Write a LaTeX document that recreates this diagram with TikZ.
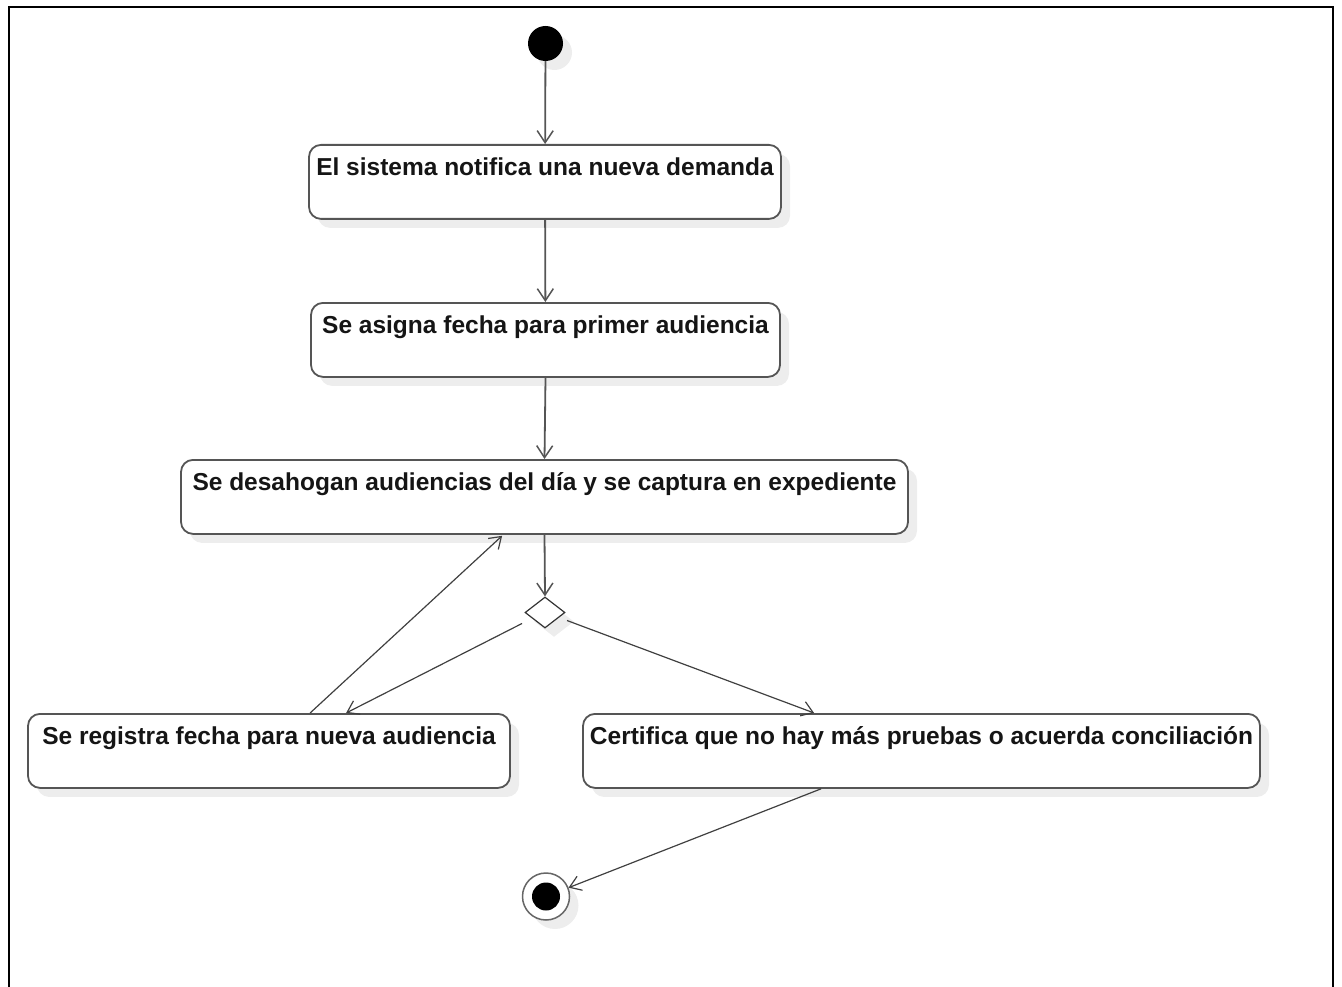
\documentclass[tikz,border=0pt]{standalone}
\usepackage{fontspec}
\setmainfont{Liberation Sans}
\usetikzlibrary{arrows.meta,shapes.geometric,shadows,calc}
\definecolor{edge}{HTML}{555555}
\definecolor{txt}{HTML}{151515}
\definecolor{shade}{HTML}{EDEDED}
\begin{document}
\begin{tikzpicture}[x=1pt,y=-1pt,
  action/.style={draw=edge, line width=1.8pt, rounded corners=12pt, fill=white,
    anchor=north, inner sep=0pt, text height=31pt, text depth=43pt,
    font=\fontsize{24.5}{28}\selectfont\bfseries, text=txt,
    drop shadow={shadow xshift=9pt, shadow yshift=-9pt, fill=shade, opacity=1}},
  flow/.style={draw=edge, line width=1.8pt, -{Straight Barb[length=12pt,width=16pt,line width=1.5pt]}},
  diag/.style={draw=black!75, line width=1.2pt, -{Straight Barb[length=11pt,width=15pt,line width=1.2pt]}},
]
\useasboundingbox (0,0) rectangle (1342,987);
\draw[line width=2pt] (9,1000) -- (9,7) -- (1333,7) -- (1333,1000);

\node[circle, fill=black, minimum size=35pt, inner sep=0pt,
  drop shadow={shadow xshift=9pt, shadow yshift=-9pt, fill=shade, opacity=1}] (start) at (545.5,43.5) {};

\node[action, minimum width=472pt] (a1) at (545,144) {El sistema notifica una nueva demanda};
\node[action, minimum width=469pt] (a2) at (545.5,302) {Se asigna fecha para primer audiencia};
\node[action, minimum width=727pt] (a3) at (544.5,459) {Se desahogan audiencias del día y se captura en expediente};
\node[action, minimum width=482pt] (a4) at (269,713) {Se registra fecha para nueva audiencia};
\node[action, minimum width=677pt] (a5) at (921.5,713) {Certifica que no hay más pruebas o acuerda conciliación};

\node[diamond, draw=black!80, line width=1.2pt, fill=white, minimum width=40pt, minimum height=31pt, inner sep=0pt,
  drop shadow={shadow xshift=9pt, shadow yshift=-9pt, fill=shade, opacity=1}] (dec) at (545,612.5) {};

\node[circle, draw=black!60, line width=1.5pt, fill=white, minimum size=47pt, inner sep=0pt,
  drop shadow={shadow xshift=9pt, shadow yshift=-9pt, fill=shade, opacity=1}] (end) at (546,896.5) {};
\node[circle, fill=black, minimum size=28pt, inner sep=0pt] (endin) at (end.center) {};

\draw[flow] (start) -- (a1);
\draw[flow] (a1) -- (a2);
\draw[flow] (a2.south) -- (a3.north);
\draw[flow] (a3.south) -- (dec.north);
\draw[diag] ($(dec.center)+(-23,11)$) -- ($(a4.north west)+(319,0)$);
\draw[diag] ($(a4.north west)+(283,0)$) -- ($(a3.south west)+(322,1)$);
\draw[diag] ($(dec.center)+(22,8)$) -- ($(a5.north west)+(232,0)$);
\draw[diag] ($(a5.south west)+(239,0)$) -- (end);
\end{tikzpicture}
\end{document}
